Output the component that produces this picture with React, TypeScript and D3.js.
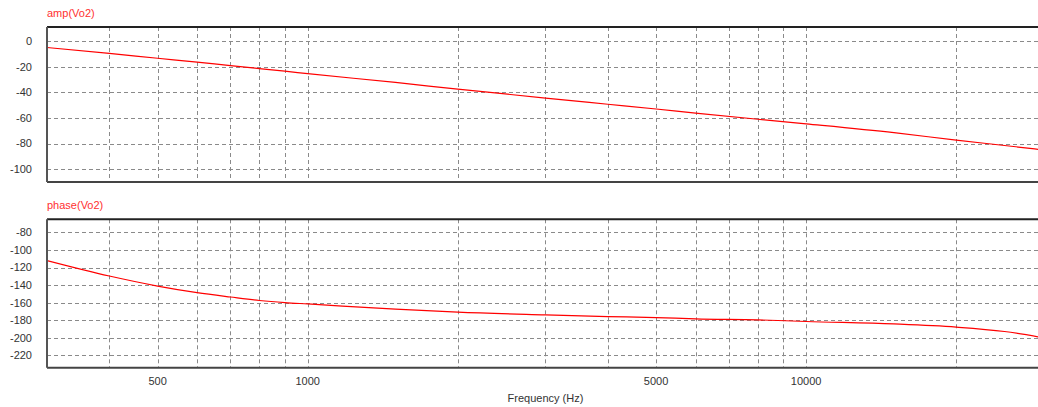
import React from "react";
import * as d3 from "d3";

const freqs = [300, 400, 500, 600, 700, 800, 900, 1000, 1500, 2000, 3000, 4000, 5000, 6000, 8000, 10000, 15000, 20000, 25000, 30000];
const ampDb = [-5, -9.6, -13.4, -16.4, -19.2, -21.5, -23.5, -25.4, -32.3, -37.5, -44.5, -49.3, -53, -56.2, -61, -64.6, -71.5, -77.3, -81.5, -85];
const phaseDeg = [-112, -129.6, -141, -148.5, -153.5, -157.5, -159.9, -161.4, -167.4, -170.8, -173.9, -175.8, -176.9, -178.4, -179.5, -181.4, -184.2, -187.8, -192.8, -200];

const ampTicks = [0, -20, -40, -60, -80, -100];
const phaseTicks = [-80, -100, -120, -140, -160, -180, -200, -220];
const xLabelTicks = [500, 1000, 5000, 10000];
const xGridTicks = [400, 500, 600, 700, 800, 900, 1000, 2000, 3000, 4000, 5000, 6000, 7000, 8000, 9000, 10000, 20000];

const FONT = "'Liberation Sans', Arial, sans-serif";

const x = d3.scaleLog().domain([300, 30000]).range([47, 1044]);
const yAmp = d3.scaleLinear().domain([-110, 11]).range([182, 27]);
const yPh = d3.scaleLinear().domain([-234, -65]).range([367.7, 219.3]);

function Panel({ y, ticks, values, title, id }: { y: d3.ScaleLinear<number, number>; ticks: number[]; values: number[]; title: string; id: string }) {
  const [y0, y1] = y.range() as [number, number];
  const top = Math.min(y0, y1);
  const bottom = Math.max(y0, y1);
  const [xl, xr] = x.range();
  const line = d3
    .line<number>()
    .x((_, i) => x(freqs[i]))
    .y((v) => y(v))
    .curve(d3.curveMonotoneX);
  return (
    <g>
      <defs>
        <clipPath id={id}>
          <rect x={xl} y={top} width={xr - xl} height={bottom - top} />
        </clipPath>
      </defs>
      <text x={xl} y={top - 10} fill="#ff3030" fontSize={11} fontFamily={FONT}>
        {title}
      </text>
      {ticks.map((t) => (
        <g key={t}>
          <line x1={xl} x2={xr} y1={Math.round(y(t)) + 0.5} y2={Math.round(y(t)) + 0.5} stroke="#8a8a8a" strokeDasharray="4,3" />
          <text x={32} y={y(t)} dy="0.35em" textAnchor="end" fill="#333" fontSize={11} fontFamily={FONT}>
            {t}
          </text>
        </g>
      ))}
      {xGridTicks.map((f) => (
        <line key={f} x1={Math.round(x(f)) + 0.5} x2={Math.round(x(f)) + 0.5} y1={top} y2={bottom} stroke="#8a8a8a" strokeDasharray="4,3" />
      ))}
      <path d={line(values) || ""} fill="none" stroke="#ff0000" strokeWidth={1.2} clipPath={`url(#${id})`} />
      <line x1={xl} x2={xr} y1={top} y2={top} stroke="#222" strokeWidth={2} />
      <line x1={xl} x2={xr} y1={bottom} y2={bottom} stroke="#444" strokeWidth={2} />
      <line x1={xl} x2={xl} y1={top} y2={bottom} stroke="#555" strokeWidth={2} />
    </g>
  );
}

export default function App() {
  return (
    <svg width={1038} height={407} style={{ position: "absolute", left: 0, top: 0, background: "#fff" }}>
      <rect x={0} y={0} width={1038} height={407} fill="#fff" />
      <Panel y={yAmp} ticks={ampTicks} values={ampDb} title="amp(Vo2)" id="clipA" />
      <Panel y={yPh} ticks={phaseTicks} values={phaseDeg} title="phase(Vo2)" id="clipP" />
      {xLabelTicks.map((f) => (
        <text key={f} x={x(f)} y={385} textAnchor="middle" fill="#333" fontSize={11} fontFamily={FONT}>
          {f}
        </text>
      ))}
      <text x={(x.range()[0] + x.range()[1]) / 2} y={402} textAnchor="middle" fill="#333" fontSize={11} fontFamily={FONT}>
        Frequency (Hz)
      </text>
    </svg>
  );
}
